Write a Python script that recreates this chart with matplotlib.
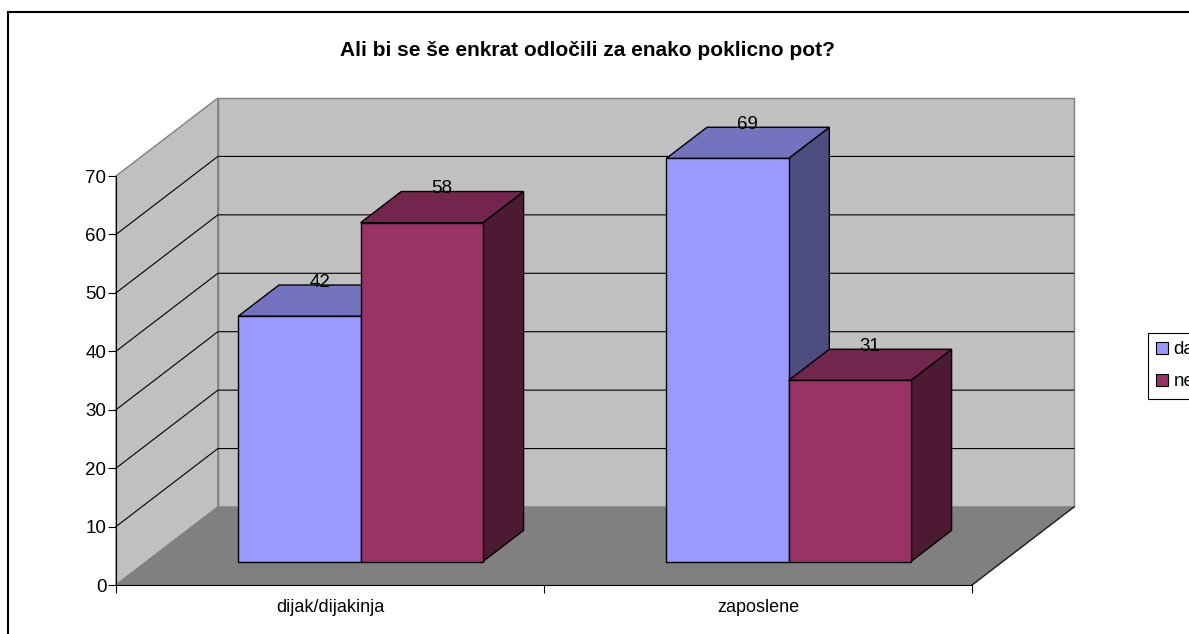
import matplotlib.pyplot as plt
from matplotlib.patches import Polygon, Patch
from matplotlib.lines import Line2D

plt.rcParams['font.family'] = ['Liberation Sans', 'DejaVu Sans']

title = 'Ali bi se še enkrat odločili za enako poklicno pot?'
categories = ['dijak/dijakinja', 'zaposlene']
series = ['da', 'ne']
da = [42, 69]
ne = [58, 31]
values = [da, ne]
yticks = [0, 10, 20, 30, 40, 50, 60, 70]

# face colours: front, top, side
shades = {
    'da': ('#9999FF', '#7373BF', '#4D4D80'),
    'ne': ('#993366', '#73264D', '#4D1A33'),
}

ymax = 70
dx, dy = 0.238, 13.35      # full depth offset in data units
bw = 1 / 3.5               # bar width, gap width 150%
d0, d1 = 0.3, 0.7          # bar front / back depth fractions

fig = plt.figure(figsize=(11.89, 6.34), dpi=100)
ax = fig.add_axes([116 / 1189, 49 / 634, 856 / 1189, 409 / 634])
ax.set_xlim(0, len(categories))
ax.set_ylim(0, ymax)
ax.patch.set_visible(False)

n = len(categories)

# walls and floor
ax.add_patch(Polygon([(0, 0), (dx, dy), (dx, ymax + dy), (0, ymax)],
                     fc='#C0C0C0', ec='#808080', lw=1, clip_on=False, zorder=1))
ax.add_patch(Polygon([(dx, dy), (n + dx, dy), (n + dx, ymax + dy), (dx, ymax + dy)],
                     fc='#C0C0C0', ec='#808080', lw=1, clip_on=False, zorder=1))
ax.add_patch(Polygon([(0, 0), (n, 0), (n + dx, dy), (dx, dy)],
                     fc='#808080', ec='#808080', lw=1, clip_on=False, zorder=1))
ax.plot([n, n + dx], [0, dy], color='#202020', lw=1, clip_on=False, zorder=2)

# gridlines on both walls
for v in yticks[1:-1]:
    ax.plot([0, dx, n + dx], [v, v + dy, v + dy], color='black', lw=0.8,
            clip_on=False, zorder=2)

# bars, drawn left to right so later faces cover earlier sides
z = 3
for i in range(n):
    for j, name in enumerate(series):
        front, top, side = shades[name]
        v = values[j][i]
        x0 = i + (1 - 2 * bw) / 2 + j * bw + d0 * dx
        x1 = x0 + bw
        y0 = d0 * dy
        y1 = y0 + v
        ddx = (d1 - d0) * dx
        ddy = (d1 - d0) * dy
        ax.add_patch(Polygon([(x1, y0), (x1 + ddx, y0 + ddy), (x1 + ddx, y1 + ddy), (x1, y1)],
                             fc=side, ec='black', lw=1, clip_on=False, zorder=z))
        ax.add_patch(Polygon([(x0, y1), (x1, y1), (x1 + ddx, y1 + ddy), (x0 + ddx, y1 + ddy)],
                             fc=top, ec='black', lw=1, clip_on=False, zorder=z))
        ax.add_patch(Polygon([(x0, y0), (x1, y0), (x1, y1), (x0, y1)],
                             fc=front, ec='black', lw=1, clip_on=False, zorder=z))
        ax.text((x0 + x1) / 2 + 0.5 * ddx, y1 + ddy + 0.5, str(v), ha='center',
                va='center', fontsize=13.5, zorder=20)
        z += 1

# axes
for s in ['top', 'right']:
    ax.spines[s].set_visible(False)
ax.spines['left'].set_zorder(10)
ax.spines['bottom'].set_zorder(10)
ax.set_yticks(yticks)
ax.tick_params(axis='y', length=6, labelsize=13.5, pad=1)
ax.set_xticks(range(n + 1))
ax.set_xticklabels([])
ax.set_xticks([i + 0.5 for i in range(n)], minor=True)
ax.set_xticklabels(categories, minor=True, fontsize=13)
ax.tick_params(axis='x', which='major', length=6)
ax.tick_params(axis='x', which='minor', length=0, pad=10)

fig.text(587 / 1189, 1 - 51 / 634, title, ha='center', va='center',
         fontsize=15, fontweight='bold')

handles = [Patch(fc=shades[s][0], ec='black', lw=0.8) for s in series]
leg = fig.legend(handles, series, loc='upper left',
                 bbox_to_anchor=(1148 / 1189, 1 - 333 / 634), borderaxespad=0,
                 fontsize=13.5, handlelength=0.6, handleheight=0.6,
                 handletextpad=0.3, labelspacing=0.8, borderpad=0.45,
                 fancybox=False, framealpha=1, edgecolor='black')
leg.get_frame().set_linewidth(0.8)

# chart border
fig.add_artist(Line2D([8 / 1189, 8 / 1189], [0, 1 - 12 / 634], color='black', lw=1.5))
fig.add_artist(Line2D([8 / 1189, 1], [1 - 12 / 634, 1 - 12 / 634], color='black', lw=1.5))

fig.savefig('out.png', dpi=100)
